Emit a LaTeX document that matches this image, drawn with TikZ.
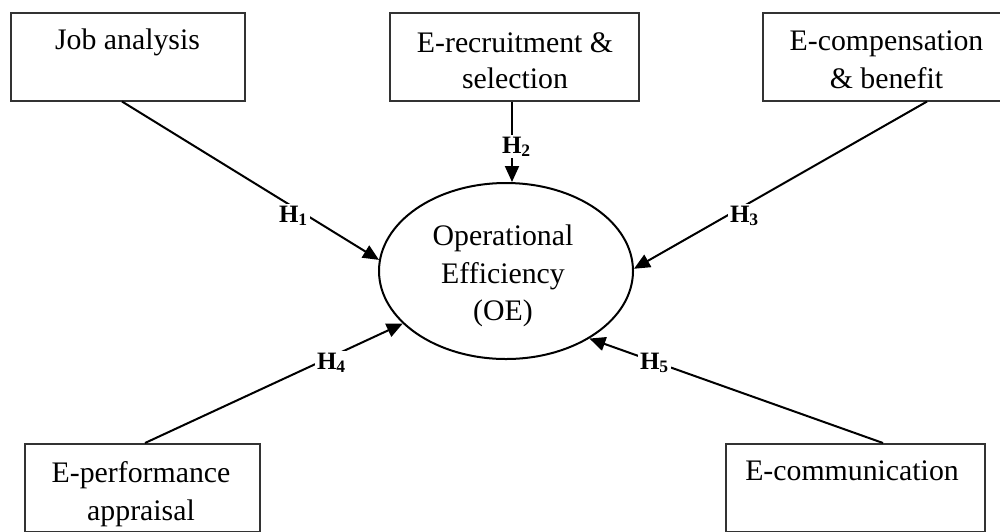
\documentclass[tikz,border=0pt]{standalone}
\usepackage{fontspec}
\setmainfont{Liberation Serif}
\usetikzlibrary{shapes.geometric,arrows.meta}
\begin{document}
\begin{tikzpicture}[x=0.5pt,y=-0.5pt,
  box/.style={draw=black!80,line width=1pt,minimum height=44pt,inner sep=0pt,rectangle},
  txt/.style={anchor=base,inner sep=0pt,font=\fontsize{14.9}{19}\selectfont},
  hyp/.style={anchor=base west,inner sep=0.8pt,fill=white,font=\fontsize{12.5}{14}\selectfont\bfseries},
  arr/.style={line width=1pt,-{Triangle[length=8pt,width=7pt]}}]
\useasboundingbox (0,0) rectangle (1000,531);
% boxes
\node[box,minimum width=117pt] (ja) at (128,56.5) {};
\node[box,minimum width=124.5pt] (er) at (514.5,56.5) {};
\node[box,minimum width=123.5pt] (ec) at (886.5,56.5) {};
\node[box,minimum width=117.5pt] (ep) at (142.5,488) {};
\node[box,minimum width=129.5pt] (ecm) at (855.5,488) {};
\node[draw,ellipse,line width=1pt,minimum width=127pt,minimum height=88pt,inner sep=0pt] (oe) at (506,271) {};
% texts
\node[txt] (t1) at (127.5,49.5) {Job analysis};
\node[txt] (t2a) at (515,52) {E-recruitment \&};
\node[txt] (t2b) at (515,88) {selection};
\node[txt] (t3a) at (886.5,50) {E-compensation};
\node[txt] (t3b) at (886.5,88) {\& benefit};
\node[txt] (t4a) at (141,482) {E-performance};
\node[txt] (t4b) at (141,520) {appraisal};
\node[txt] (t5) at (852,480) {E-communication};
\node[txt] (o1) at (503,245) {Operational};
\node[txt] (o2) at (503,283) {Efficiency};
\node[txt] (o3) at (503,320) {(OE)};
% arrows
\coordinate (h2s) at ([xshift=-1.25pt]er.south);
\draw[arr] ([xshift=-3pt]ja.south) -- (oe.175);
\draw[arr] (h2s) -- (h2s |- oe.north);
\draw[arr] ([xshift=20.25pt]ec.south) -- (oe.1.4);
\draw[arr] ([xshift=1.25pt]ep.north) -- (oe.207.7);
\draw[arr] ([xshift=13.75pt]ecm.north) -- (oe.321.2);
% hypothesis labels
\node[hyp] (h1) at (277,222) {H\textsubscript{1}};
\node[hyp] (h2) at (500,153) {H\textsubscript{2}};
\node[hyp] (h3) at (728,222) {H\textsubscript{3}};
\node[hyp] (h4) at (315,369) {H\textsubscript{4}};
\node[hyp] (h5) at (638,369) {H\textsubscript{5}};
\end{tikzpicture}
\end{document}
